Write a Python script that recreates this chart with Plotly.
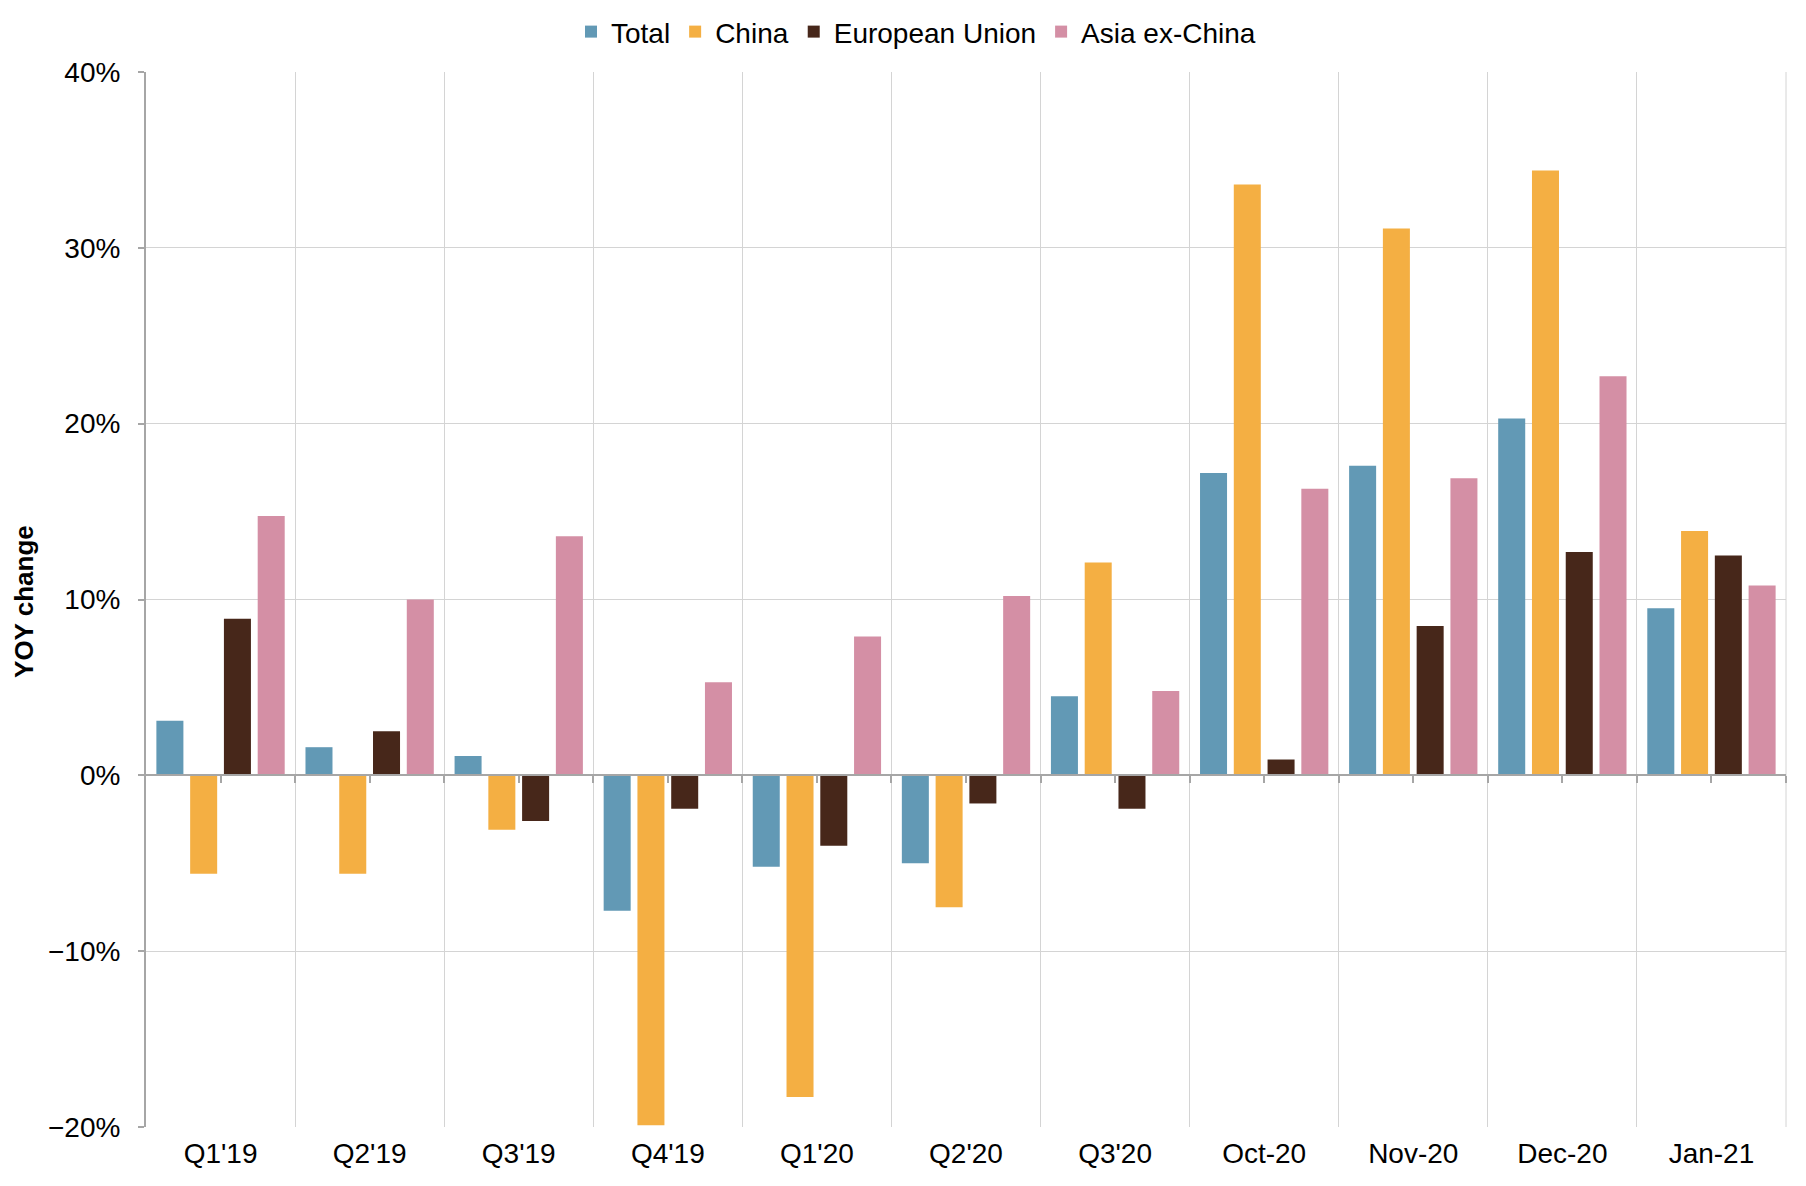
import plotly.graph_objects as go

categories = ["Q1'19", "Q2'19", "Q3'19", "Q4'19", "Q1'20", "Q2'20", "Q3'20",
              "Oct-20", "Nov-20", "Dec-20", "Jan-21"]
total = [3.1, 1.6, 1.1, -7.7, -5.2, -5.0, 4.5, 17.2, 17.6, 20.3, 9.5]
china = [-5.6, -5.6, -3.1, -19.9, -18.3, -7.5, 12.1, 33.6, 31.1, 34.4, 13.9]
eu = [8.9, 2.5, -2.6, -1.9, -4.0, -1.6, -1.9, 0.9, 8.5, 12.7, 12.5]
asia = [14.75, 10.0, 13.6, 5.3, 7.9, 10.2, 4.8, 16.3, 16.9, 22.7, 10.8]

series = [("Total", total, "#6299B5"), ("China", china, "#F4AF43"),
          ("European Union", eu, "#47271A"), ("Asia ex-China", asia, "#D48FA5")]

FONT = "Liberation Sans"

fig = go.Figure()
for name, vals, color in series:
    fig.add_trace(go.Bar(x=categories, y=vals, name=name, marker_color=color,
                         marker_line_width=0))

n = len(categories)
# page body has an 8px default margin; figure size/margins compensate for it
fig.update_layout(
    width=1790, height=1170,
    paper_bgcolor="white", plot_bgcolor="white",
    margin=dict(l=138, r=12, t=64, b=51, autoexpand=False),
    barmode="group", bargap=0.094, bargroupgap=0.2,
    font=dict(family=FONT, size=28, color="#000000"),
    legend=dict(orientation="h", x=0.4695, xanchor="center", y=1.038, yanchor="middle",
                font=dict(size=28), itemwidth=30, traceorder="normal"),
    xaxis=dict(type="category", tickson="boundaries", showgrid=True,
               gridcolor="#D4D4D4", gridwidth=1, ticks="", showline=False,
               tickfont=dict(size=28), ticklabelstandoff=7, automargin=False),
    xaxis2=dict(overlaying="x", anchor="free", position=1/3, range=[-0.5, n - 0.5],
                tickvals=[i * 0.5 for i in range(0, 2 * n)], ticks="outside", ticklen=7,
                tickwidth=2, tickcolor="#A6A6A6", showticklabels=False,
                showline=True, linecolor="#A6A6A6", linewidth=2, showgrid=False,
                zeroline=False, side="bottom", automargin=False),
    yaxis=dict(range=[-20, 40], dtick=10, ticksuffix="%", showgrid=True,
               gridcolor="#D4D4D4", gridwidth=1, zeroline=False,
               showline=True, linecolor="#A6A6A6", linewidth=2,
               ticks="outside", ticklen=6, tickwidth=2, tickcolor="#A6A6A6",
               tickfont=dict(size=28), ticklabelstandoff=12, automargin=False),
    shapes=[dict(type="line", xref="paper", yref="paper", x0=1, x1=1, y0=0, y1=1,
                 line=dict(color="#D4D4D4", width=1), layer="below")],
    annotations=[dict(text="<b>YOY change</b>", xref="paper", yref="paper",
                      x=-0.0744, y=0.4986, textangle=-90, showarrow=False,
                      font=dict(size=26, family=FONT), xanchor="center",
                      yanchor="middle")],
)
# invisible trace to activate xaxis2
fig.add_trace(go.Scatter(x=[0], y=[0], xaxis="x2", mode="markers",
                         marker=dict(opacity=0), showlegend=False, hoverinfo="skip"))

fig.write_html("out.html")
